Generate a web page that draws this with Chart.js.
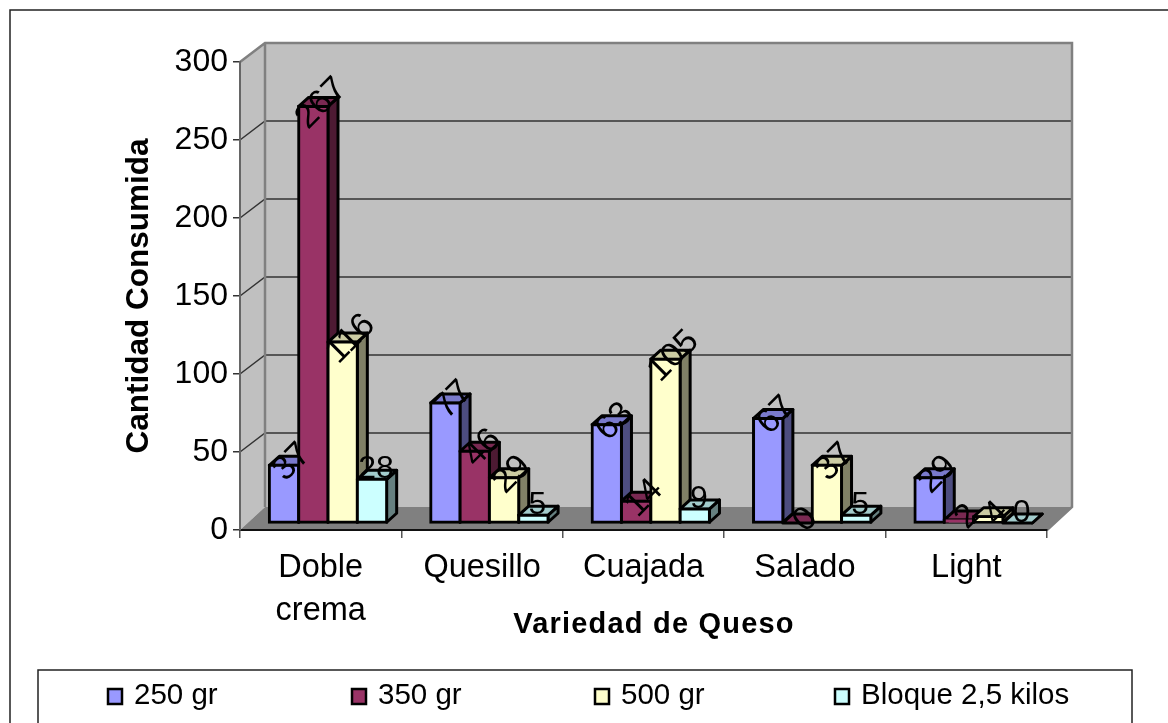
<!DOCTYPE html>
<html lang="es">
<head>
    <meta charset="UTF-8">
    <title>Consumo por variedad de queso</title>
    <script src="https://cdn.jsdelivr.net/npm/chart.js"></script>
    <style>
        html, body { margin: 0; padding: 0; background: #fff; overflow: hidden; }
        canvas { display: block; }
    </style>
</head>
<body>
    <canvas id="quesoChart" width="1168" height="723"></canvas>
    <script>
        const variedades = [['Doble', 'crema'], 'Quesillo', 'Cuajada', 'Salado', 'Light'];
        const presentaciones = ['250 gr', '350 gr', '500 gr', 'Bloque 2,5 kilos'];
        const gr250 = [37, 77, 63, 67, 29];
        const gr350 = [267, 46, 14, 0, 2];
        const gr500 = [116, 29, 105, 37, 4];
        const bloque = [28, 5, 9, 5, 0];
        const series = [gr250, gr350, gr500, bloque];

        const colores = ['#9999FF', '#993366', '#FFFFCC', '#CCFFFF'];
        const techos = ['#7A7ACC', '#7A2952', '#CCCCA3', '#A3CCCC'];
        const costados = ['#4D4D80', '#4D1A33', '#808066', '#668080'];
        const inclinacion = [-45, -45, -45, 0];
        const leyendaX = [108, 352, 595, 835];

        const FUENTE = '"Liberation Sans", Arial, sans-serif';
        const pared = { dx: 25, dy: -19, pisoDy: -23 };
        const frente = { dx: 7.3, dy: -7 };
        const fondoBarra = { dx: 10, dy: -9 };

        function poligono(ctx, puntos, relleno, borde, ancho) {
            ctx.beginPath();
            puntos.forEach(([x, y], i) => (i ? ctx.lineTo(x, y) : ctx.moveTo(x, y)));
            ctx.closePath();
            ctx.fillStyle = relleno;
            ctx.fill();
            if (borde) {
                ctx.strokeStyle = borde;
                ctx.lineWidth = ancho;
                ctx.lineJoin = 'round';
                ctx.stroke();
            }
        }

        // Marco exterior, paredes, piso y cuadro de la leyenda
        const fondo3d = {
            id: 'fondo3d',
            beforeDraw(chart) {
                const { ctx, chartArea: a, scales: { y } } = chart;
                const { dx, dy, pisoDy } = pared;
                ctx.save();
                ctx.fillStyle = '#fff';
                ctx.fillRect(0, 0, chart.width, chart.height);
                ctx.strokeStyle = '#222';
                ctx.lineWidth = 1.5;
                ctx.strokeRect(10, 10, 1300, 900);

                poligono(ctx, [[a.left, a.top], [a.left + dx, a.top + dy], [a.left + dx, a.bottom + pisoDy], [a.left, a.bottom]], '#C0C0C0');
                poligono(ctx, [[a.left + dx, a.top + dy], [a.right + dx, a.top + dy], [a.right + dx, a.bottom + pisoDy], [a.left + dx, a.bottom + pisoDy]], '#C0C0C0');
                poligono(ctx, [[a.left, a.bottom], [a.left + dx, a.bottom + pisoDy], [a.right + dx, a.bottom + pisoDy], [a.right, a.bottom]], '#808080');

                // Líneas de división sobre las paredes
                ctx.lineWidth = 1.5;
                ctx.strokeStyle = '#333';
                y.ticks.forEach(t => {
                    if (t.value === 0 || t.value === y.max) return;
                    const py = y.getPixelForValue(t.value);
                    ctx.beginPath();
                    ctx.moveTo(a.left, py);
                    ctx.lineTo(a.left + dx, py + dy);
                    ctx.lineTo(a.right + dx, py + dy);
                    ctx.stroke();
                });

                // Bordes de las paredes
                ctx.strokeStyle = '#808080';
                ctx.lineWidth = 2.5;
                ctx.beginPath();
                ctx.moveTo(a.left, a.top);
                ctx.lineTo(a.left + dx, a.top + dy);
                ctx.lineTo(a.right + dx, a.top + dy);
                ctx.lineTo(a.right + dx, a.bottom + pisoDy);
                ctx.lineTo(a.right, a.bottom);
                ctx.moveTo(a.left + dx, a.top + dy);
                ctx.lineTo(a.left + dx, a.bottom + pisoDy);
                ctx.stroke();

                ctx.strokeStyle = '#222';
                ctx.lineWidth = 1.5;
                ctx.strokeRect(38, 670, 1094, 120);
                ctx.restore();
            }
        };

        // Las series se pintan de izquierda a derecha para que cada barra tape el costado de la anterior
        const barras3d = {
            id: 'barras3d',
            beforeDatasetsDraw(chart) {
                const { ctx } = chart;
                const { dx, dy } = fondoBarra;
                series.forEach((valores, i) => {
                    const meta = chart.getDatasetMeta(i);
                    ctx.save();
                    meta.data.forEach(barra => {
                        const p = barra.getProps(['x', 'y', 'base', 'width'], true);
                        const izq = p.x - p.width / 2 + frente.dx;
                        const der = p.x + p.width / 2 + frente.dx;
                        const arriba = p.y + frente.dy;
                        const abajo = p.base + frente.dy;
                        poligono(ctx, [[der, arriba], [der + dx, arriba + dy], [der + dx, abajo + dy], [der, abajo]], costados[i], '#000', 3);
                        poligono(ctx, [[izq, arriba], [izq + dx, arriba + dy], [der + dx, arriba + dy], [der, arriba]], techos[i], '#000', 3);
                    });
                    ctx.translate(frente.dx, frente.dy);
                    meta.controller.draw();
                    ctx.restore();
                });

                // Rótulos de valor encima de todas las barras
                ctx.save();
                ctx.fillStyle = '#000';
                ctx.textAlign = 'center';
                ctx.textBaseline = 'middle';
                series.forEach((valores, i) => {
                    const meta = chart.getDatasetMeta(i);
                    valores.forEach((v, j) => {
                        const p = meta.data[j].getProps(['x', 'y'], true);
                        const recta = inclinacion[i] === 0;
                        ctx.font = (recta ? '32px ' : '34px ') + FUENTE;
                        ctx.save();
                        ctx.translate(p.x + frente.dx + (recta ? 4 : 8), p.y + frente.dy + (recta ? -10 : -3));
                        ctx.rotate(inclinacion[i] * Math.PI / 180);
                        ctx.fillText(String(v), 0, 0);
                        ctx.restore();
                    });
                });
                ctx.restore();
                return false;
            }
        };

        // Título del eje X con espaciado y leyenda inferior
        const textos = {
            id: 'textos',
            afterDraw(chart) {
                const { ctx } = chart;
                ctx.save();
                ctx.fillStyle = '#000';
                ctx.textBaseline = 'middle';
                ctx.textAlign = 'center';
                ctx.font = 'bold 29px ' + FUENTE;
                ctx.letterSpacing = '1.2px';
                ctx.fillText('Variedad de Queso', 654, 625);
                ctx.letterSpacing = '0px';

                ctx.textAlign = 'left';
                ctx.font = '29.5px ' + FUENTE;
                presentaciones.forEach((nombre, i) => {
                    ctx.fillStyle = colores[i];
                    ctx.strokeStyle = '#000';
                    ctx.lineWidth = 2.5;
                    ctx.fillRect(leyendaX[i], 689, 14, 15);
                    ctx.strokeRect(leyendaX[i], 689, 14, 15);
                    ctx.fillStyle = '#000';
                    ctx.fillText(nombre, leyendaX[i] + 26, 696);
                });
                ctx.restore();
            }
        };

        new Chart(document.getElementById('quesoChart'), {
            type: 'bar',
            data: {
                labels: variedades,
                datasets: series.map((valores, i) => ({
                    label: presentaciones[i],
                    data: valores,
                    backgroundColor: colores[i],
                    borderColor: '#000',
                    borderWidth: 3,
                    borderSkipped: false,
                    inflateAmount: 1.5
                }))
            },
            options: {
                responsive: false,
                animation: false,
                devicePixelRatio: 1,
                layout: { padding: { top: 62, right: 121, left: 0, bottom: 0 } },
                datasets: { bar: { categoryPercentage: 0.727, barPercentage: 1 } },
                plugins: { legend: { display: false }, tooltip: { enabled: false } },
                scales: {
                    x: {
                        afterFit(scale) { scale.height = 193; },
                        grid: { drawOnChartArea: false, tickLength: 8, color: '#555', lineWidth: 1.5 },
                        border: { color: '#111', width: 2 },
                        ticks: {
                            color: '#000',
                            maxRotation: 0,
                            autoSkip: false,
                            padding: 9,
                            font: { family: FUENTE, size: 32.5, lineHeight: 1.32 }
                        }
                    },
                    y: {
                        min: 0,
                        max: 300,
                        afterFit(scale) { scale.width = 240; },
                        grid: { drawOnChartArea: false, tickLength: 7, color: '#333', lineWidth: 1.5 },
                        border: { color: '#666', width: 2 },
                        ticks: {
                            stepSize: 50,
                            color: '#000',
                            padding: 5,
                            font: { family: FUENTE, size: 32 }
                        },
                        title: {
                            display: true,
                            text: 'Cantidad Consumida',
                            color: '#000',
                            padding: { top: 120, bottom: 0 },
                            font: { family: FUENTE, size: 31.5, weight: 'bold' }
                        }
                    }
                }
            },
            plugins: [fondo3d, barras3d, textos]
        });
    </script>
</body>
</html>
